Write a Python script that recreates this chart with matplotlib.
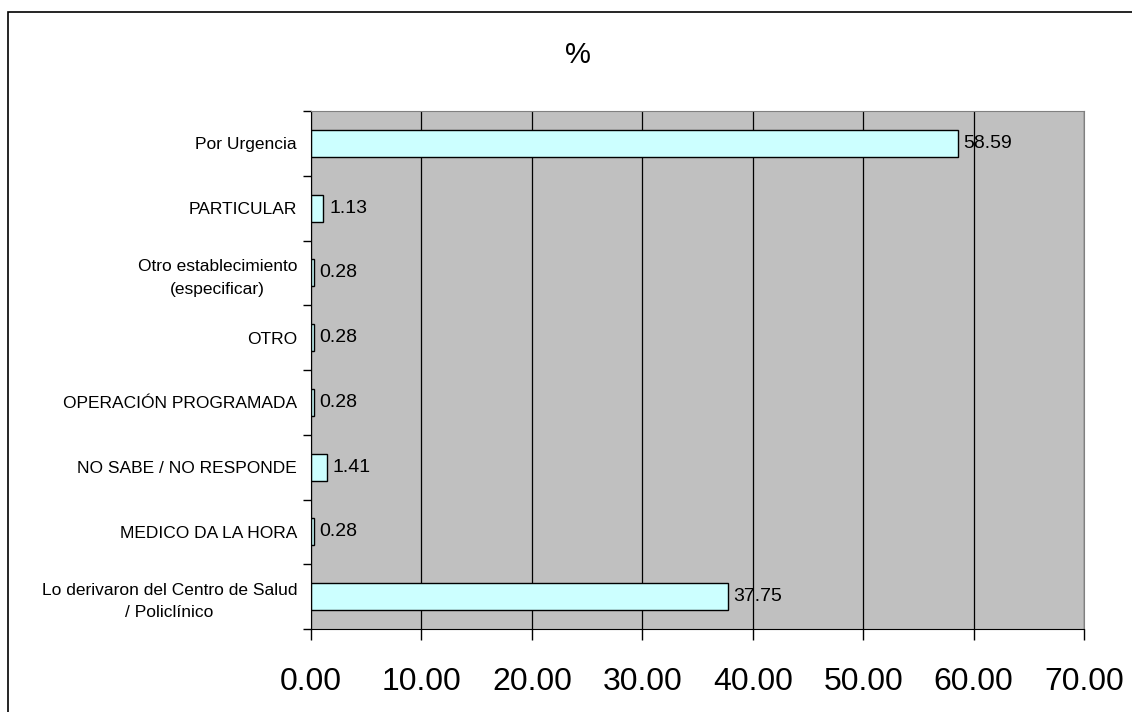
import numpy as np
import matplotlib
matplotlib.use("Agg")
import matplotlib.pyplot as plt
from matplotlib.patches import Rectangle

plt.rcParams['font.family'] = ['Liberation Sans', 'DejaVu Sans']

# categories listed bottom to top
categorias = [
    "Lo derivaron del Centro de Salud\n/ Policlínico",
    "MEDICO DA LA HORA",
    "NO SABE / NO RESPONDE",
    "OPERACIÓN PROGRAMADA",
    "OTRO",
    "Otro establecimiento\n(especificar)",
    "PARTICULAR",
    "Por Urgencia",
]
porcentajes = [37.75, 0.28, 1.41, 0.28, 0.28, 0.28, 1.13, 58.59]
xticks = [0, 10, 20, 30, 40, 50, 60, 70]

fig = plt.figure(figsize=(11.32, 7.12), dpi=100)
ax = fig.add_axes([311/1132, 1 - 629/712, (1084-311)/1132, (629-111)/712])

# outer chart frame (right/bottom edges fall off the image)
fig.patches.append(Rectangle((8/1132, -0.1), 1.2, 1 - 12/712 + 0.1,
                             transform=fig.transFigure, fill=False,
                             edgecolor='black', linewidth=1.2))

ax.set_facecolor('#C0C0C0')
ax.set_axisbelow(True)
ax.xaxis.grid(True, color='black', linewidth=0.9)

y = np.arange(len(categorias))
bars = ax.barh(y, porcentajes, height=0.42, color='#CCFFFF',
               edgecolor='black', linewidth=1.0)

for yi, v in zip(y, porcentajes):
    ax.annotate(f"{v:.2f}", (v, yi), xytext=(4, 0), textcoords='offset points',
                va='center', ha='left', fontsize=14)

ax.set_xlim(0, 70)
ax.set_ylim(-0.5, len(categorias) - 0.5)
ax.set_xticks(xticks)
ax.set_xticklabels([f"{t:.2f}" for t in xticks], fontsize=23)
ax.tick_params(axis='x', length=8, width=1, pad=19)

ax.set_yticks(y)
ax.set_yticklabels(categorias, fontsize=12.5, multialignment='center',
                   linespacing=1.6)
ax.tick_params(axis='y', which='major', length=0, pad=10)
ax.set_yticks(np.arange(-0.5, len(categorias)), minor=True)
ax.tick_params(axis='y', which='minor', length=6, width=1)

ax.spines['left'].set_color('black')
ax.spines['bottom'].set_color('black')
ax.spines['top'].set_color('#808080')
ax.spines['right'].set_color('#808080')

fig.text(578/1132, 1 - 55/712, "%", ha='center', va='center', fontsize=21)

fig.savefig("out.png", dpi=100)
